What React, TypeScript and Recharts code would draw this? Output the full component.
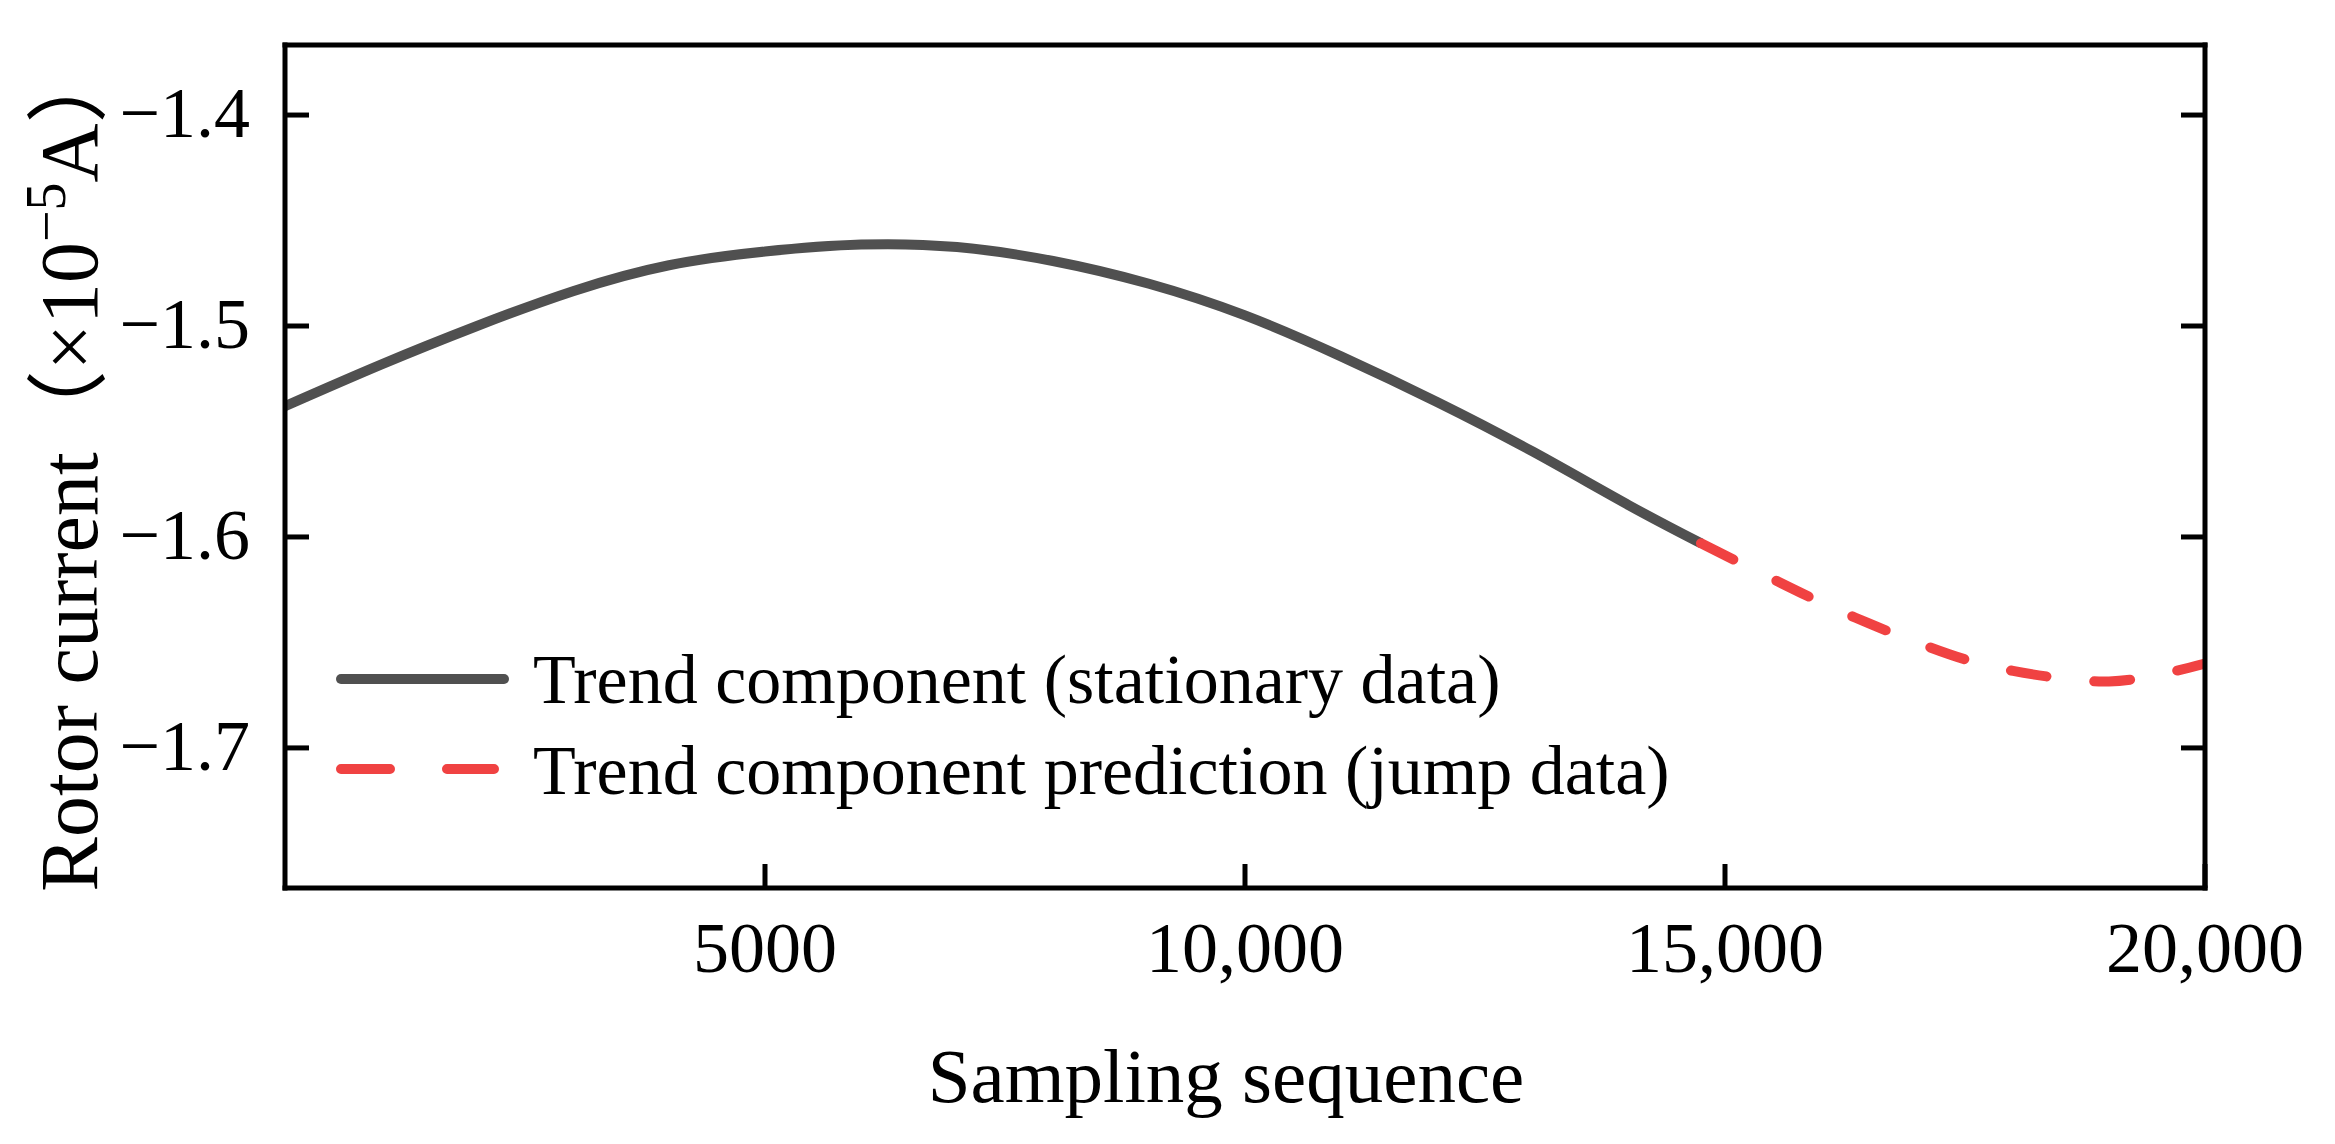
import React from "react";
import { LineChart, Line, XAxis, YAxis, Legend } from "recharts";

// trend component, stationary part (solid grey)
const stationaryX = [0, 1000, 2000, 3000, 4000, 5000, 6000, 7000, 8000, 9000, 10000, 11000, 12000, 13000, 14000, 14750];
const stationaryY = [-1.538, -1.5183, -1.5, -1.4835, -1.4712, -1.4647, -1.4614, -1.4626, -1.4692, -1.48, -1.495, -1.5144, -1.536, -1.5596, -1.585, -1.603];

// prediction over the jump data (red dashed)
const jumpX = [14750, 15500, 16000, 16500, 17000, 17500, 18000, 18500, 19000, 19500, 20000];
const jumpY = [-1.603, -1.62, -1.631, -1.641, -1.65, -1.658, -1.6635, -1.667, -1.6685, -1.6655, -1.66];

const xTicks = [5000, 10000, 15000, 20000];
const xTopTicks = [5000, 10000, 15000];
const yTicks = [-1.7, -1.6, -1.5, -1.4];

const stationary = stationaryX.map((x, i) => ({ x, y: stationaryY[i] }));
const jump = jumpX.map((x, i) => ({ x, y: jumpY[i] }));

const FONT = "'Liberation Serif', 'Times New Roman', 'Noto Sans CJK SC', serif";
const GRAY = "#505050";
const RED = "#f04242";
const Y_DOMAIN: [number, number] = [-1.7664, -1.3668];
const TICK_LEN = 24;
const FRAME_W = 5;

const fmtX = (v: number) => (v < 10000 ? String(v) : v.toLocaleString("en-US"));
const fmtY = (v: number) => "\u2212" + Math.abs(v).toFixed(1);

const axisStroke = { stroke: "#000", strokeWidth: FRAME_W, strokeLinecap: "square" as const };

// inward ticks + labels, drawn at the positions recharts hands over
function BottomTick(props: any) {
  const { x, y, payload } = props;
  return (
    <g>
      <line x1={x} y1={y} x2={x} y2={y - TICK_LEN} stroke="#000" strokeWidth={FRAME_W} />
      <text x={x} y={y + 84} textAnchor="middle" fontFamily={FONT} fontSize={72} fill="#000">
        {fmtX(payload.value)}
      </text>
    </g>
  );
}

function LeftTick(props: any) {
  const { x, y, payload } = props;
  return (
    <g>
      <line x1={x} y1={y} x2={x + TICK_LEN} y2={y} stroke="#000" strokeWidth={FRAME_W} />
      <text x={x - 35} y={y + 22} textAnchor="end" fontFamily={FONT} fontSize={72} fill="#000">
        {fmtY(payload.value)}
      </text>
    </g>
  );
}

function TopTick(props: any) {
  const { x, y } = props;
  return <line x1={x} y1={y} x2={x} y2={y + TICK_LEN} stroke="#000" strokeWidth={FRAME_W} />;
}

function RightTick(props: any) {
  const { x, y } = props;
  return <line x1={x} y1={y} x2={x - TICK_LEN} y2={y} stroke="#000" strokeWidth={FRAME_W} />;
}

function renderYLabel(props: any) {
  const vb = props.viewBox || {};
  const cy = vb.y + vb.height / 2;
  const x = 97;
  return (
    <text
      x={x}
      y={cy}
      transform={`rotate(-90 ${x} ${cy})`}
      textAnchor="middle"
      fontFamily={FONT}
      fontSize={82}
      fill="#000"
    >
      <tspan>Rotor current（×10</tspan>
      <tspan fontSize={56} dy={-32}>{"\u22125"}</tspan>
      <tspan fontSize={82} dy={32}>A）</tspan>
    </text>
  );
}

function renderXLabel(props: any) {
  const vb = props.viewBox || {};
  return (
    <text
      x={vb.x + vb.width / 2 - 19}
      y={vb.y + 214}
      textAnchor="middle"
      fontFamily={FONT}
      fontSize={77}
      fill="#000"
    >
      Sampling sequence
    </text>
  );
}

function TrendLegend() {
  return (
    <svg width={1400} height={200} style={{ display: "block" }}>
      <line x1={21} y1={59} x2={184} y2={59} stroke={GRAY} strokeWidth={10} strokeLinecap="round" />
      <text x={213} y={83} fontFamily={FONT} fontSize={70} fill="#000">
        Trend component (stationary data)
      </text>
      <line
        x1={21}
        y1={149}
        x2={174}
        y2={149}
        stroke={RED}
        strokeWidth={10}
        strokeLinecap="round"
        strokeDasharray="49 57"
      />
      <text x={213} y={174} fontFamily={FONT} fontSize={70} fill="#000">
        Trend component prediction (jump data)
      </text>
    </svg>
  );
}

export default function App() {
  return (
    <div style={{ position: "absolute", left: 0, top: 0, background: "#fff" }}>
      <LineChart width={2335} height={1144} margin={{ top: 44, right: 129, bottom: 0, left: 0 }}>
        <XAxis
          dataKey="x"
          type="number"
          domain={[0, 20000]}
          ticks={xTicks}
          height={256}
          tickSize={0}
          tickMargin={0}
          axisLine={axisStroke}
          tickLine={false}
          tick={BottomTick}
          label={renderXLabel}
          allowDataOverflow
        />
        <XAxis
          xAxisId="top"
          orientation="top"
          type="number"
          domain={[0, 20000]}
          ticks={xTopTicks}
          height={1}
          tickSize={0}
          tickMargin={0}
          axisLine={axisStroke}
          tickLine={false}
          tick={TopTick}
        />
        <YAxis
          type="number"
          domain={Y_DOMAIN}
          ticks={yTicks}
          width={285}
          tickSize={0}
          tickMargin={0}
          axisLine={axisStroke}
          tickLine={false}
          tick={LeftTick}
          label={renderYLabel}
          allowDataOverflow
        />
        <YAxis
          yAxisId="right"
          orientation="right"
          type="number"
          domain={Y_DOMAIN}
          ticks={yTicks}
          width={1}
          tickSize={0}
          tickMargin={0}
          axisLine={axisStroke}
          tickLine={false}
          tick={RightTick}
          allowDataOverflow
        />
        <Legend
          layout="vertical"
          align="center"
          verticalAlign="middle"
          wrapperStyle={{ left: 320, top: 620, width: 1400, height: 200 }}
          content={TrendLegend}
        />
        <Line
          data={stationary}
          dataKey="y"
          type="natural"
          stroke={GRAY}
          strokeWidth={10}
          dot={false}
          activeDot={false}
          isAnimationActive={false}
        />
        <Line
          data={jump}
          dataKey="y"
          type="natural"
          stroke={RED}
          strokeWidth={10}
          strokeLinecap="round"
          strokeDasharray="36 48"
          dot={false}
          activeDot={false}
          isAnimationActive={false}
        />
      </LineChart>
    </div>
  );
}
